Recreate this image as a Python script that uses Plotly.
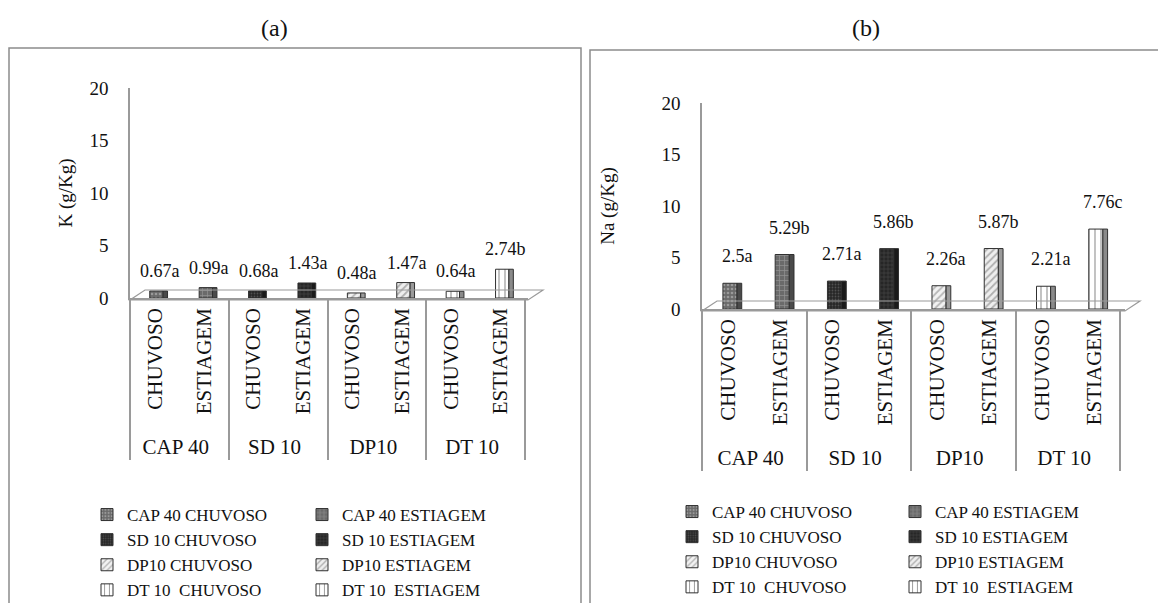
import plotly.graph_objects as go

# ---- data -------------------------------------------------------------
groups = ["CAP 40", "SD 10", "DP10", "DT 10"]
seasons = ["CHUVOSO", "ESTIAGEM"]
series_names = [
    "CAP 40 CHUVOSO", "CAP 40 ESTIAGEM",
    "SD 10 CHUVOSO", "SD 10 ESTIAGEM",
    "DP10 CHUVOSO", "DP10 ESTIAGEM",
    "DT 10  CHUVOSO", "DT 10  ESTIAGEM",
]
k_values = [0.67, 0.99, 0.68, 1.43, 0.48, 1.47, 0.64, 2.74]
k_letters = ["a", "a", "a", "a", "a", "a", "a", "b"]
na_values = [2.5, 5.29, 2.71, 5.86, 2.26, 5.87, 2.21, 7.76]
na_letters = ["a", "b", "a", "b", "a", "b", "a", "c"]
y_ticks = [0, 5, 10, 15, 20]

# fill pattern of each series
patterns = [
    dict(shape=".", bgcolor="#6a6a6a", fgcolor="#c9c9c9", size=4, solidity=0.35),
    dict(shape="+", bgcolor="#6a6a6a", fgcolor="#bdbdbd", size=5, solidity=0.25),
    dict(shape=".", bgcolor="#262626", fgcolor="#7a7a7a", size=3, solidity=0.3),
    dict(shape="+", bgcolor="#262626", fgcolor="#6e6e6e", size=4, solidity=0.25),
    dict(shape="/", bgcolor="#f2f2f2", fgcolor="#7a7a7a", size=5, solidity=0.35),
    dict(shape="/", bgcolor="#eeeeee", fgcolor="#707070", size=5, solidity=0.35),
    dict(shape="|", bgcolor="#ffffff", fgcolor="#333333", size=6, solidity=0.2),
    dict(shape="|", bgcolor="#ffffff", fgcolor="#333333", size=6, solidity=0.2),
]
# darker tone used for the right-hand face of each column
side_colors = ["#4a4a4a", "#4a4a4a", "#1a1a1a", "#1a1a1a",
               "#9a9a9a", "#9a9a9a", "#8a8a8a", "#8a8a8a"]

W, H = 1158, 603
FONT = "Liberation Serif"


def px_x(v):
    return v / W


def px_y(v):
    return 1 - v / H


fig = go.Figure()

# each panel has a two-column key: one legend per column
panels = [
    dict(values=k_values, letters=k_letters, xa="x", ya="y",
         legends=("legend", "legend2"), label_dx=5, label_dy=20),
    dict(values=na_values, letters=na_letters, xa="x2", ya="y2",
         legends=("legend3", "legend4"), label_dx=9, label_dy=27),
]

BAR_W, BAR_OFF, SIDE_W = 0.27, -0.1, 0.09

for p in panels:
    for i, name in enumerate(series_names):
        g = groups[i // 2]
        s = seasons[i % 2]
        fig.add_trace(go.Bar(
            x=[[g], [s]], y=[p["values"][i]], name=name,
            xaxis=p["xa"], yaxis=p["ya"], legend=p["legends"][i % 2],
            width=BAR_W, offset=BAR_OFF,
            marker=dict(pattern=patterns[i], line=dict(color="#303030", width=1)),
            hoverinfo="skip",
        ))
        # side face of the column
        fig.add_trace(go.Bar(
            x=[[g], [s]], y=[p["values"][i]], name=name, showlegend=False,
            xaxis=p["xa"], yaxis=p["ya"],
            width=SIDE_W, offset=BAR_OFF + BAR_W,
            marker=dict(color=side_colors[i], line=dict(color="#303030", width=1)),
            hoverinfo="skip",
        ))
    for i, v in enumerate(p["values"]):
        fig.add_annotation(
            x=i, y=v, xref=p["xa"], yref=p["ya"],
            text=f"{v:g}{p['letters'][i]}", showarrow=False,
            xshift=p["label_dx"], yshift=p["label_dy"],
            font=dict(family=FONT, size=18, color="#111"),
        )

# panel geometry (pixels)
A = dict(x0=130, x1=528, y0=298, y1=88)
B = dict(x0=702, x1=1125, y0=309, y1=103)

tick_font = dict(family=FONT, size=19, color="#111")
cat_font = dict(family=FONT, size=21, color="#111")
axis_common = dict(showgrid=False, zeroline=False)
fig.update_layout(
    xaxis=dict(domain=[px_x(A["x0"]), px_x(A["x1"])], anchor="y", type="multicategory",
               showline=True, linecolor="#9a9a9a", linewidth=1.5,
               showdividers=True, dividercolor="#9a9a9a", dividerwidth=1.5,
               tickangle=-90, tickfont=cat_font, **axis_common),
    yaxis=dict(domain=[px_y(A["y0"]), px_y(A["y1"])], anchor="x", range=[0, 20],
               tickvals=y_ticks, showline=True, linecolor="#9a9a9a", linewidth=1.5,
               ticks="", ticklabelstandoff=16, tickfont=tick_font,
               title=dict(text="K (g/Kg)", standoff=12, font=tick_font),
               **axis_common),
    xaxis2=dict(domain=[px_x(B["x0"]), px_x(B["x1"])], anchor="y2", type="multicategory",
                showline=True, linecolor="#9a9a9a", linewidth=1.5,
                showdividers=True, dividercolor="#9a9a9a", dividerwidth=1.5,
                tickangle=-90, tickfont=cat_font, **axis_common),
    yaxis2=dict(domain=[px_y(B["y0"]), px_y(B["y1"])], anchor="x2", range=[0, 20],
                tickvals=y_ticks, showline=True, linecolor="#9a9a9a", linewidth=1.5,
                ticks="", ticklabelstandoff=16, tickfont=tick_font,
                title=dict(text="Na (g/Kg)", standoff=42, font=tick_font),
                **axis_common),
)

# 3-D style floor under each plot
shapes = []
for P in (A, B):
    fx0, fx1, fy = P["x0"], P["x1"], P["y0"] + 2
    path = (f"M {px_x(fx0)} {px_y(fy)} L {px_x(fx1)} {px_y(fy)} "
            f"L {px_x(fx1 + 15)} {px_y(fy - 10)} L {px_x(fx0 + 15)} {px_y(fy - 10)} Z")
    shapes.append(dict(type="path", path=path, xref="paper", yref="paper",
                       line=dict(color="#9a9a9a", width=1.2), fillcolor="rgba(0,0,0,0)"))

# chart area borders
shapes.append(dict(type="rect", xref="paper", yref="paper",
                   x0=px_x(9), x1=px_x(581), y0=px_y(48), y1=px_y(610),
                   line=dict(color="#8c8c8c", width=1.5)))
shapes.append(dict(type="rect", xref="paper", yref="paper",
                   x0=px_x(590), x1=px_x(1170), y0=px_y(50), y1=px_y(610),
                   line=dict(color="#8c8c8c", width=1.5)))

legend_common = dict(orientation="v", bgcolor="rgba(0,0,0,0)", borderwidth=0,
                     font=dict(family=FONT, size=17, color="#111"),
                     xanchor="left", yanchor="top", itemclick=False,
                     tracegroupgap=0)

fig.update_layout(
    width=W, height=H, autosize=False,
    margin=dict(l=0, r=0, t=0, b=0, autoexpand=False),
    paper_bgcolor="white", plot_bgcolor="rgba(0,0,0,0)",
    barmode="overlay", showlegend=True,
    shapes=shapes,
    legend=dict(x=px_x(87), y=px_y(497), **legend_common),
    legend2=dict(x=px_x(302), y=px_y(497), **legend_common),
    legend3=dict(x=px_x(672), y=px_y(494), **legend_common),
    legend4=dict(x=px_x(895), y=px_y(494), **legend_common),
)

fig.add_annotation(x=px_x(274), y=px_y(28), xref="paper", yref="paper", text="(a)",
                   xanchor="center", yanchor="middle", showarrow=False,
                   font=dict(family=FONT, size=24, color="#111"))
fig.add_annotation(x=px_x(866), y=px_y(28), xref="paper", yref="paper", text="(b)",
                   xanchor="center", yanchor="middle", showarrow=False,
                   font=dict(family=FONT, size=24, color="#111"))

fig.write_html("out.html")
